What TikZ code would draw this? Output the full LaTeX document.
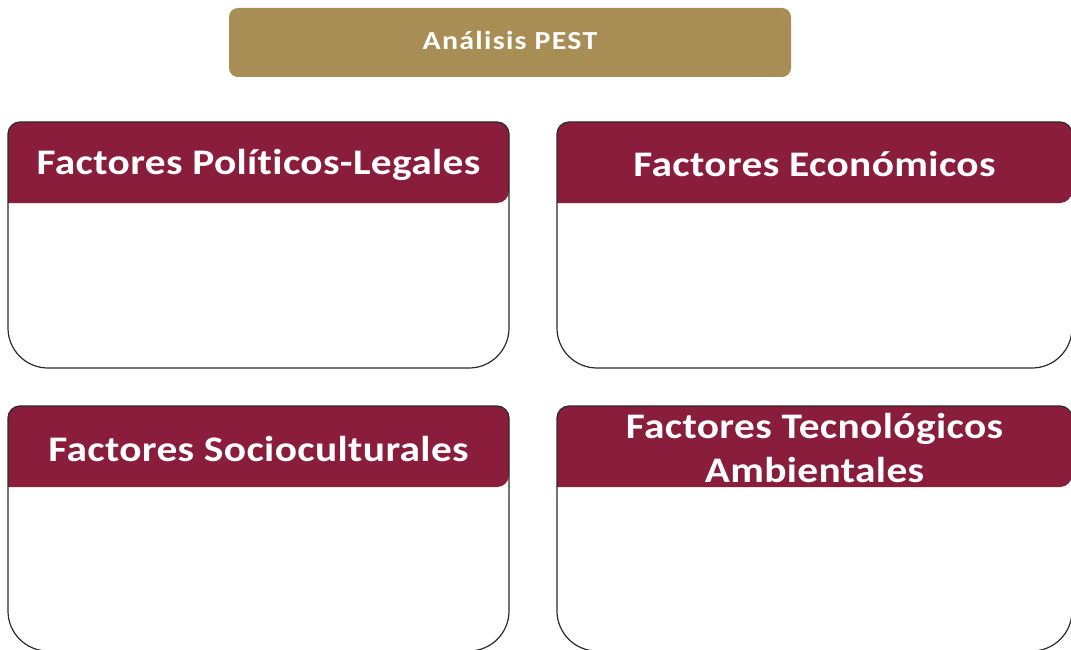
\documentclass[tikz,border=0pt]{standalone}
\usepackage{fontspec}
\setmainfont{Carlito}[Ligatures={NoCommon}]
\newfontfamily\headfont{Carlito}[Ligatures={NoCommon},FakeStretch=1.15,LetterSpace=1]
\newfontfamily\titlefont{Carlito}[Ligatures={NoCommon},FakeStretch=1.15,LetterSpace=5]
\definecolor{maroon}{HTML}{8A1C3C}
\definecolor{gold}{HTML}{A88D55}
\definecolor{edge}{HTML}{2A2A2A}
\tikzset{
  headtext/.style={text=white, font=\headfont\bfseries\fontsize{36}{44}\selectfont, align=center, inner sep=0pt},
  titletext/.style={text=white, font=\titlefont\bfseries\fontsize{26}{30}\selectfont, inner sep=0pt},
}
\newcommand{\pestbox}[6]{% x0 y0 x1 yh y1 name
  \fill[white, rounded corners=40pt] (#1,#4) -- (#1,#5) -- (#3,#5) -- (#3,#4) -- cycle;
  \fill[maroon, rounded corners=12pt] (#1,#4) -- (#1,#2) -- (#3,#2) -- (#3,#4) [sharp corners] -- cycle;
  \draw[edge, line width=1.2pt] (#1,#4) [rounded corners=12pt] -- (#1,#2) -- (#3,#2) [sharp corners] -- (#3,#4) [rounded corners=40pt] -- (#3,#5) -- (#1,#5) [sharp corners] -- cycle;
  \coordinate (#6) at ({(#1+#3)/2},{(#2+#4)/2});
}
\begin{document}
\begin{tikzpicture}[x=1pt,y=-1pt]
\useasboundingbox (0,0) rectangle (1071,650);
\fill[gold, rounded corners=9pt] (229,8) rectangle (791,77);
\node[titletext] (title) at (510,40) {Análisis PEST};
\pestbox{8}{122}{509}{203}{368}{pl}
\pestbox{557}{122}{1072}{203}{368}{ec}
\pestbox{8}{406}{509}{487}{651}{so}
\pestbox{557}{406}{1072}{487}{651}{te}
\node[headtext] (plt) at ([yshift=-2pt]pl) {Factores Políticos-Legales};
\node[headtext] (ect) at ([yshift=-2pt]ec) {Factores Económicos};
\node[headtext] (sot) at ([yshift=-2pt]so) {Factores Socioculturales};
\node[headtext] (tet) at ([yshift=-1pt]te) {Factores Tecnológicos\\Ambientales};
\end{tikzpicture}
\end{document}
